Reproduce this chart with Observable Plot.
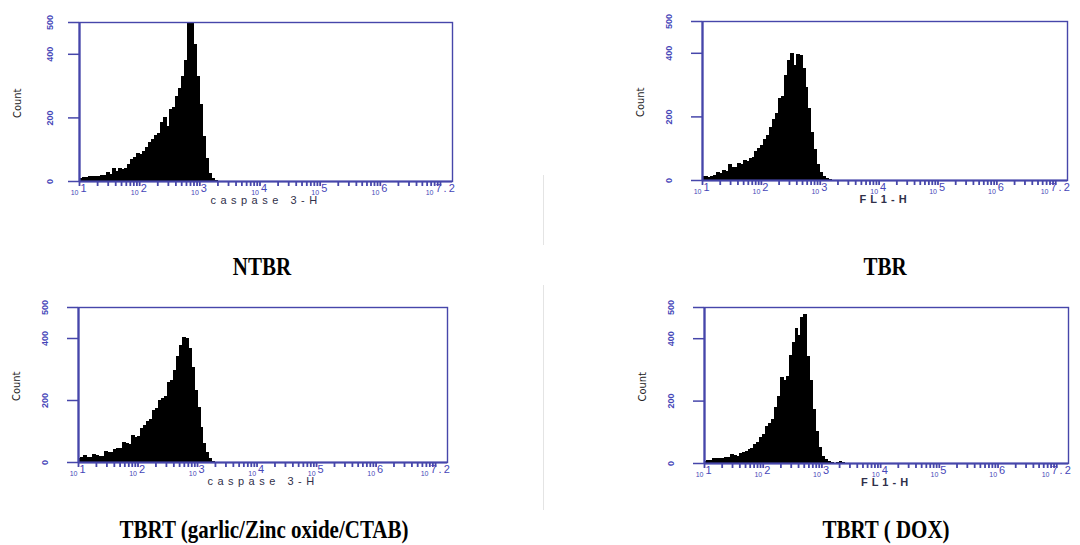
<!DOCTYPE html>
<html><head><meta charset="utf-8">
<script src="https://cdn.jsdelivr.net/npm/d3@7"></script>
<script src="https://cdn.jsdelivr.net/npm/@observablehq/plot@0.6"></script>
<style>
html,body{margin:0;padding:0;background:#fff}
body{width:1080px;height:545px;position:relative;overflow:hidden}
.panel{position:absolute}
.cap{position:absolute;font-family:"Liberation Serif","Times New Roman",serif;font-weight:bold;font-size:21px;line-height:21px;transform:translateX(-50%) scaleY(1.2);white-space:nowrap;color:#000}
.divider{position:absolute;width:1px;background:#e4e4e4}
</style></head><body>
<script>
// ---- data ----
const panelTitles = ["NTBR", "TBR", "TBRT (garlic/Zinc oxide/CTAB)", "TBRT ( DOX)"];
const xLabels = ["caspase 3-H", "FL1-H", "caspase 3-H", "FL1-H"];
const yLabel = "Count";
const binStart = 1.0;      // log10 of first bin's left edge
const binWidth = 0.05;     // bin width in decades
const ntbrCounts = [8,12,12,14,14,15,13,18,16,28,22,38,30,40,36,38,52,68,74,85,83,92,105,120,130,142,150,185,200,170,225,230,265,290,330,380,500,500,430,330,240,140,70,25,8,3];
const tbrCounts = [10,10,8,12,15,25,22,30,28,48,38,40,52,50,60,58,68,72,90,98,108,127,140,165,190,210,256,262,330,375,398,360,395,390,350,290,225,150,95,50,25,10,4,2];
const garlicCounts = [12,15,20,14,15,24,20,17,18,35,32,31,39,42,44,62,60,58,84,80,82,107,118,132,136,167,172,200,205,212,258,264,296,340,375,402,400,365,305,232,175,110,60,30,10,3];
const doxCounts = [6,8,8,15,16,13,14,18,17,27,25,22,32,34,38,42,48,58,66,81,92,118,128,140,178,212,275,265,278,345,385,432,410,465,475,340,265,170,100,50,22,10,5,2,0,3,5,3];
const yTicks = [0, 200, 400, 500];
const decadeExps = [1, 2, 3, 4, 5, 6];
const endExp = 7.2;
const xMinExp = 1, xMaxExp = 7.2, yMax = 500;

// ---- layout ----
const blue = "#4646aa";
const labelBlue = "#4646b8";
const layout = [
  {left:0,   top:0,   w:540, h:250, ml:79,  mr:88, mt:22, mb:69, tp:16},
  {left:540, top:0,   w:540, h:250, ml:162, mr:13, mt:21, mb:70, tp:20},
  {left:0,   top:280, w:540, h:230, ml:78,  mr:93, mt:27, mb:48, tp:20},
  {left:540, top:280, w:540, h:230, ml:164, mr:12, mt:27, mb:47, tp:20}
];
const allCounts = [ntbrCounts, tbrCounts, garlicCounts, doxCounts];
const minorTicks = d3.scaleLog().domain([10 ** xMinExp, 10 ** xMaxExp]).ticks();

function makePanel(counts, xlab, L) {
  const bins = counts.map((c, i) => ({
    x1: 10 ** (binStart + i * binWidth),
    x2: 10 ** (binStart + (i + 1) * binWidth),
    y: Math.min(c, yMax)
  }));
  const svg = Plot.plot({
    width: L.w, height: L.h,
    marginLeft: L.ml, marginRight: L.mr, marginTop: L.mt, marginBottom: L.mb,
    style: {background: "transparent", overflow: "visible", fontFamily: "'Liberation Sans', Arial, sans-serif"},
    x: {type: "log", domain: [10 ** xMinExp, 10 ** xMaxExp], label: null},
    y: {domain: [0, yMax], label: null},
    marks: [
      Plot.rectY(bins, {x1: "x1", x2: "x2", y1: 0, y2: "y", inset: 0, fill: "#000", stroke: "#000", strokeWidth: 1, shapeRendering: "crispEdges"}),
      Plot.frame({stroke: blue, strokeWidth: 1.4}),
      Plot.ruleY([0], {stroke: blue, strokeWidth: 2.2}),
      Plot.ruleX([10 ** xMinExp], {stroke: blue, strokeWidth: 2.2}),
      Plot.axisX({ticks: minorTicks, tickSize: 5, stroke: blue, strokeWidth: 1.8, fill: "none", label: null}),
      Plot.axisY({ticks: yTicks, tickSize: 11, tickRotate: -90, tickPadding: L.tp, stroke: blue, strokeWidth: 1.5,
                  fill: labelBlue, fontSize: 9, fontWeight: "bold", tickFormat: d => String(d), label: null}),
      Plot.text(decadeExps, {x: e => 10 ** e, text: () => "10", frameAnchor: "bottom", dy: 13, dx: -1,
                             textAnchor: "end", fontSize: 7, fill: labelBlue}),
      Plot.text(decadeExps, {x: e => 10 ** e, text: e => String(e), frameAnchor: "bottom", dy: 10, dx: 1,
                             textAnchor: "start", fontSize: 11, fill: labelBlue}),
      Plot.text([endExp], {x: e => 10 ** e, text: () => "10", frameAnchor: "bottom", dy: 13, dx: -19,
                           textAnchor: "end", fontSize: 7, fill: labelBlue}),
      Plot.text([endExp], {x: e => 10 ** e, text: e => String(e), frameAnchor: "bottom", dy: 10, dx: -17,
                           textAnchor: "start", fontSize: 11, fill: labelBlue}),
      Plot.text([yLabel], {text: d => d, frameAnchor: "left", dx: -62, dy: 16, rotate: -90, fontSize: 11,
                           fill: "#222", fontFamily: "'Liberation Sans Narrow','DejaVu Sans Condensed',sans-serif"}),
      Plot.text([xlab], {text: d => d, frameAnchor: "bottom", dy: 22, fontSize: 11, fill: "#30304a",
                         fontWeight: xlab === "FL1-H" ? "bold" : "normal"})
    ]
  });
  d3.select(svg).selectAll("text")
    .filter(function() { return this.textContent === xlab; })
    .style("letter-spacing", xlab === "FL1-H" ? "4px" : "4.5px");
  d3.select(svg).selectAll("text")
    .filter(function() { return this.textContent === String(endExp); })
    .style("letter-spacing", "2px");
  svg.classList.add("panel");
  svg.style.left = L.left + "px";
  svg.style.top = L.top + "px";
  return svg;
}

for (let k = 0; k < 4; k++) {
  document.body.appendChild(makePanel(allCounts[k], xLabels[k], layout[k]));
}

const capPos = [{x:262, y:257}, {x:885, y:257}, {x:264, y:520}, {x:886, y:520}];
panelTitles.forEach((t, k) => {
  const d = document.createElement("div");
  d.className = "cap";
  d.textContent = t;
  d.style.left = capPos[k].x + "px";
  d.style.top = capPos[k].y + "px";
  document.body.appendChild(d);
});

[[175, 245], [285, 510]].forEach(([a, b]) => {
  const d = document.createElement("div");
  d.className = "divider";
  d.style.left = "543px"; d.style.top = a + "px"; d.style.height = (b - a) + "px";
  document.body.appendChild(d);
});
</script>
</body></html>
